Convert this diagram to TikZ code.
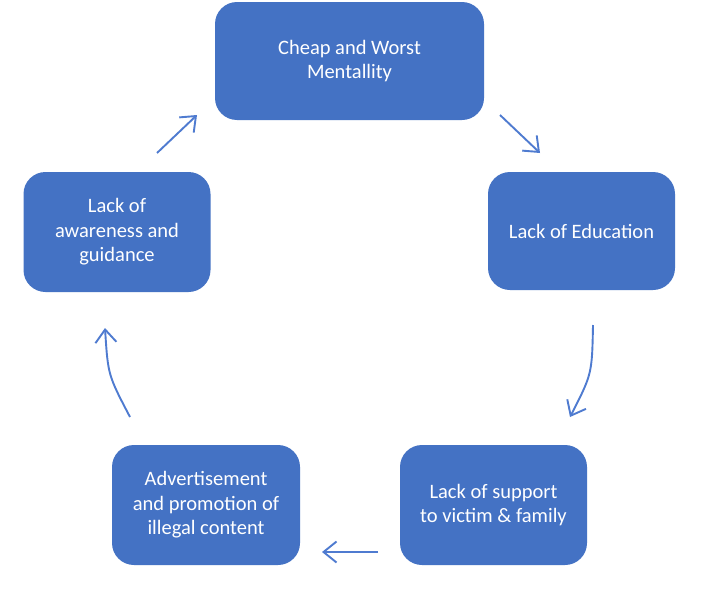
\documentclass[tikz,border=0pt]{standalone}
\usepackage{fontspec}
\setmainfont{Carlito}
\usetikzlibrary{arrows.meta}
\definecolor{boxblue}{HTML}{4472C4}
\definecolor{arrblue}{HTML}{4F7BD0}
\begin{document}
\begin{tikzpicture}[x=1pt,y=-1pt,
  box/.style={draw=none,fill=boxblue,rounded corners=22pt,text=white,
    align=center,font=\fontsize{20.5}{24.5}\selectfont,inner sep=0pt},
  cyc/.style={draw=arrblue,line width=1.9pt,-{Straight Barb[length=13pt,width=21pt,line width=1.9pt]}}]
\useasboundingbox (0,0) rectangle (708,589);
\fill[white] (0,0) rectangle (708,589);
\node[box,minimum width=269pt,minimum height=118pt] (cheap) at (349.5,61) {Cheap and Worst\\Mentallity};
\node[box,minimum width=187pt,minimum height=118pt] (edu) at (581.5,231) {Lack of Education};
\node[box,minimum width=187pt,minimum height=120pt] (supp) at (493.5,505) {Lack of support\\to victim \& family};
\node[box,minimum width=188pt,minimum height=120pt] (adv) at (206,505) {Advertisement\\and promotion of\\illegal content};
\node[box,minimum width=187pt,minimum height=120pt] (aware) at (117,232) {Lack of\\awareness and\\guidance};
\coordinate (a1s) at (157,153); \coordinate (a1e) at (197,115);
\coordinate (a2s) at (500,115); \coordinate (a2e) at (540,153);
\coordinate (a3s) at (593,325); \coordinate (a3c) at (592,374); \coordinate (a3e) at (570,417);
\coordinate (a4s) at (378,552); \coordinate (a4e) at (322,552);
\coordinate (a5s) at (130,417); \coordinate (a5c) at (108,375); \coordinate (a5e) at (105,328);
\draw[cyc] (a1s) -- (a1e);
\draw[cyc] (a2s) -- (a2e);
\draw[cyc] (a3s) .. controls (a3c) .. (a3e);
\draw[cyc] (a4s) -- (a4e);
\draw[cyc] (a5s) .. controls (a5c) .. (a5e);
\end{tikzpicture}
\end{document}
